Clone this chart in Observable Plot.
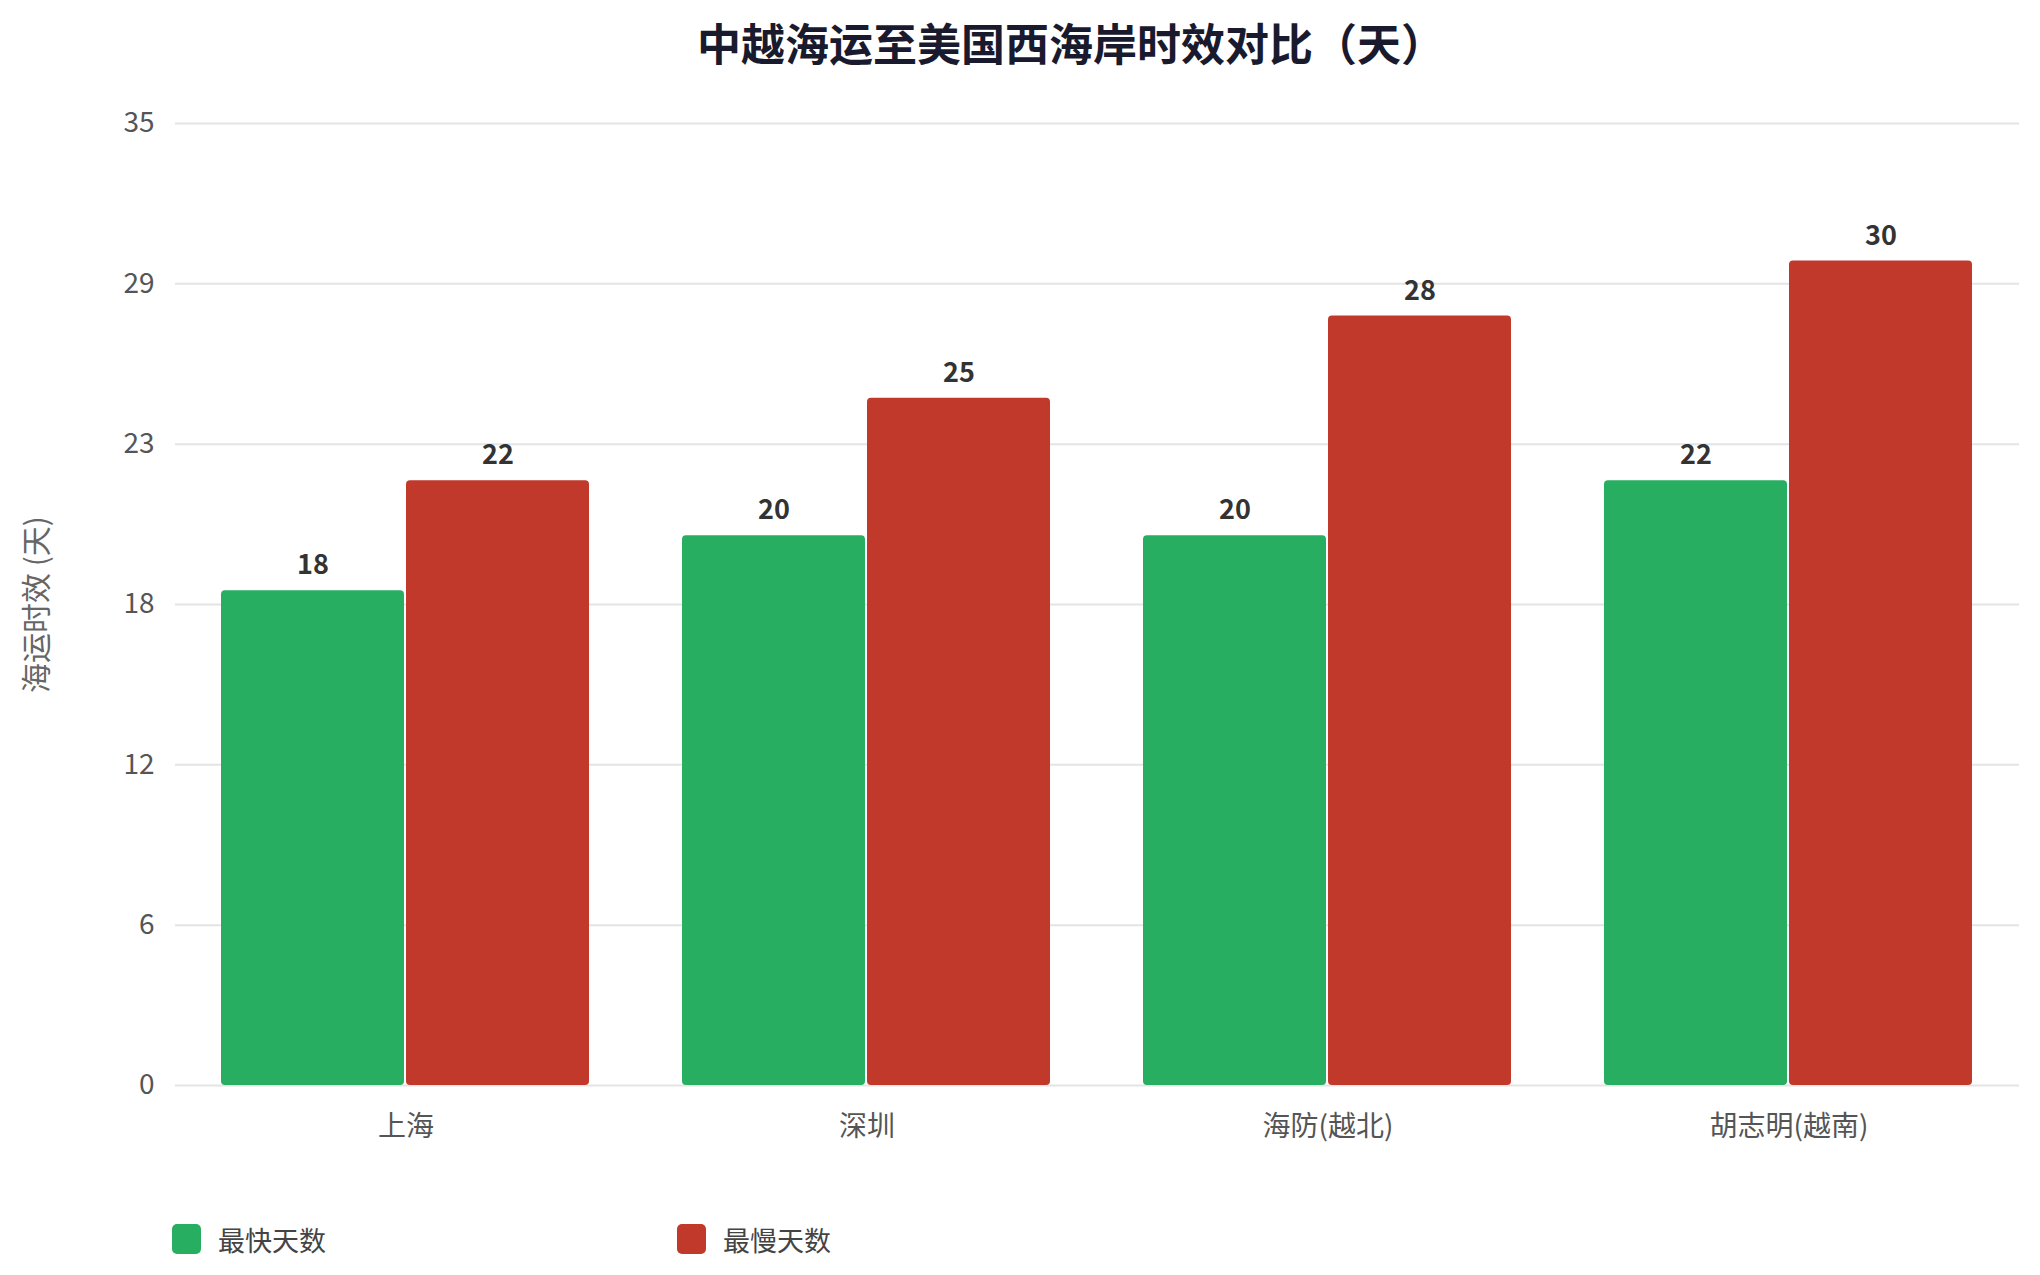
<!DOCTYPE html>
<html>
<head>
<meta charset="utf-8">
<script src="https://cdn.jsdelivr.net/npm/d3@7"></script>
<script src="https://cdn.jsdelivr.net/npm/@observablehq/plot@0.6"></script>
<style>
  html, body { margin: 0; padding: 0; background: #ffffff; }
  body { width: 2040px; font-family: "Noto Sans CJK SC", "Noto Sans", sans-serif; }
  #title { height: 84px; line-height: 84px; font-size: 44px; font-weight: bold; color: #1a1a2e; text-align: center; padding-left: 102px; box-sizing: border-box; width: 2040px; }
  #legend { position: relative; height: 65px; width: 2040px; }
  .item { position: absolute; top: 14px; height: 30px; display: flex; align-items: center; font-size: 27px; color: #444; }
  .sw { width: 29px; height: 30px; border-radius: 5px; margin-right: 17px; }
</style>
</head>
<body>
<div id="title">中越海运至美国西海岸时效对比（天）</div>
<div id="chart"></div>
<div id="legend"></div>
<script>
const cities = ["上海", "深圳", "海防(越北)", "胡志明(越南)"];
const seriesNames = ["最快天数", "最慢天数"];
const fastest = [18, 20, 20, 22];
const slowest = [22, 25, 28, 30];
const colors = ["#27ae60", "#c0392b"];
const yMax = 35;
const yTickCount = 6;
const yTicks = d3.range(yTickCount + 1).map(i => i * yMax / yTickCount);
const yLabel = "海运时效 (天)";

const data = cities.flatMap((c, i) => [
  {city: c, series: seriesNames[0], value: fastest[i]},
  {city: c, series: seriesNames[1], value: slowest[i]}
]);

const chart = Plot.plot({
  width: 2040,
  height: 1126,
  marginTop: 39,
  marginBottom: 125,
  marginLeft: 173,
  marginRight: 20,
  style: {fontFamily: "'Noto Sans CJK SC', 'Noto Sans', sans-serif", fontSize: "28px", color: "#555", background: "transparent"},
  fx: {domain: cities, padding: 0, label: null, axis: "bottom", tickSize: 0, tickPadding: 31},
  x: {domain: seriesNames, paddingInner: 0.01, paddingOuter: 0.25, axis: null},
  y: {domain: [0, yMax], ticks: yTicks, tickSize: 0, tickPadding: 21, tickFormat: d => Math.round(d), label: null},
  color: {domain: seriesNames, range: colors},
  marks: [
    Plot.gridY(yTicks, {stroke: "#e4e4e4", strokeOpacity: 1, strokeWidth: 2}),
    Plot.barY(data, {fx: "city", x: "series", y: "value", fill: "series", rx: 4}),
    Plot.text(data, {fx: "city", x: "series", y: "value", text: d => String(d.value), dy: -25, fontWeight: "bold", fill: "#333", fontSize: 27}),
    Plot.text([{label: yLabel, city: cities[0]}], {fx: "city", text: "label", frameAnchor: "left", textAnchor: "middle", dx: -138, rotate: -90, fill: "#666", fontSize: 30})
  ]
});
document.getElementById("chart").appendChild(chart);

const legend = document.getElementById("legend");
const legendX = [172, 677];
seriesNames.forEach((s, i) => {
  const it = document.createElement("div");
  it.className = "item";
  it.style.left = legendX[i] + "px";
  const sw = document.createElement("div");
  sw.className = "sw";
  sw.style.background = colors[i];
  const t = document.createElement("span");
  t.textContent = s;
  it.appendChild(sw);
  it.appendChild(t);
  legend.appendChild(it);
});
</script>
</body>
</html>
